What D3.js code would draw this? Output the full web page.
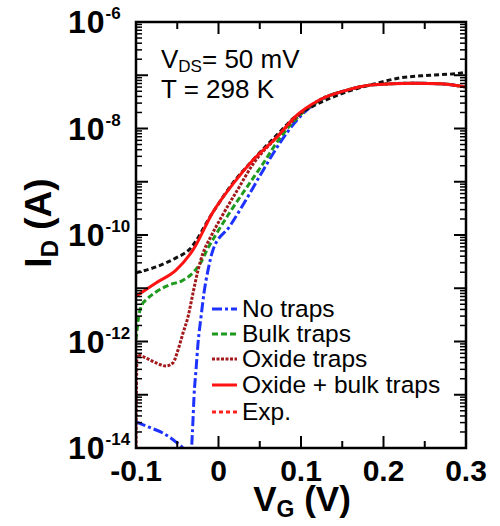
<!DOCTYPE html>
<html>
<head>
<meta charset="utf-8">
<script src="https://cdn.jsdelivr.net/npm/d3@7"></script>
<style>
  html, body { margin: 0; padding: 0; background: #fff; }
  svg { display: block; font-family: Arial, "Liberation Sans", sans-serif; }
</style>
</head>
<body>
<svg id="chart" width="500" height="526"></svg>
<script>
// ---- Data (V_G in volts, log10 of I_D in amperes) ----
const noTrapsV = [-0.1, -0.0842, -0.0673, -0.0515, -0.0418, -0.038, -0.0345, -0.0321, -0.0309, -0.0297, -0.0273, -0.0248, -0.0212, -0.0176, -0.0127, -0.0067, 0.0139, 0.0345, 0.0527, 0.0745, 0.0952, 0.123, 0.1558, 0.1873, 0.2358, 0.2685, 0.3];
const noTrapsL = [-13.51, -13.61, -13.72, -13.89, -14.04, -14.5, -14.5, -13.85, -13.47, -13.04, -12.54, -12.03, -11.54, -11.09, -10.66, -10.28, -9.83, -9.31, -8.82, -8.27, -7.84, -7.47, -7.28, -7.18, -7.15, -7.16, -7.22];

const bulkV = [-0.1, -0.0964, -0.0927, -0.0879, -0.0758, -0.06, -0.043, -0.0297, -0.0212, -0.0139, -0.0042, 0.0139, 0.0345, 0.0527, 0.0745, 0.0952, 0.123, 0.1558, 0.1873, 0.2358, 0.2685, 0.3];
const bulkL = [-11.97, -11.50, -11.31, -11.22, -11.07, -10.94, -10.85, -10.69, -10.51, -10.28, -10.02, -9.57, -9.10, -8.69, -8.18, -7.80, -7.47, -7.28, -7.18, -7.15, -7.16, -7.22];

const oxideV = [-0.1, -0.0988, -0.0879, -0.0758, -0.0636, -0.0552, -0.0491, -0.043, -0.037, -0.0309, -0.0248, -0.0188, -0.0103, 0.0055, 0.0224, 0.0418, 0.0709, 0.0952, 0.123, 0.1558, 0.1873, 0.2358, 0.2685, 0.3];
const oxideL = [-14.0, -12.25, -12.31, -12.40, -12.46, -12.40, -12.16, -11.84, -11.54, -11.09, -10.66, -10.34, -10.06, -9.61, -9.17, -8.67, -8.16, -7.78, -7.46, -7.28, -7.18, -7.15, -7.16, -7.22];

const oxBulkV = [-0.1, -0.0758, -0.0515, -0.0309, -0.0067, 0.0176, 0.0418, 0.0709, 0.0927, 0.123, 0.1558, 0.1873, 0.2358, 0.2685, 0.3];
const oxBulkL = [-11.15, -10.90, -10.66, -10.28, -9.57, -9.04, -8.59, -8.16, -7.78, -7.46, -7.28, -7.18, -7.15, -7.16, -7.22];

const expV = [-0.1, -0.0758, -0.0515, -0.0358, -0.0067, 0.0176, 0.0418, 0.0709, 0.0952, 0.1145, 0.1558, 0.1921, 0.22, 0.2564, 0.2927, 0.3];
const expL = [-10.71, -10.60, -10.43, -10.28, -9.57, -9.02, -8.59, -8.12, -7.75, -7.58, -7.31, -7.15, -7.05, -7.00, -6.96, -6.94];

const seriesNames = ["No traps", "Bulk traps", "Oxide traps", "Oxide + bulk traps", "Exp."];
const xTickValues = [-0.1, 0, 0.1, 0.2, 0.3];
const xTickLabels = ["-0.1", "0", "0.1", "0.2", "0.3"];
const yLabelExponents = [-14, -12, -10, -8, -6];
const annotation1 = ["V", "DS", "= 50 mV"];
const annotation2 = "T = 298 K";

// ---- Layout ----
const svg = d3.select("#chart");
const L = 136, R = 466, T = 22, B = 448;
const x = d3.scaleLinear().domain([-0.1, 0.3]).range([L, R]);
const y = d3.scaleLog().domain([1e-14, 1e-6]).range([B, T]);

svg.append("defs").append("clipPath").attr("id", "clip")
  .append("rect").attr("x", L).attr("y", T).attr("width", R - L).attr("height", B - T);

const styles = [
  { color: "#1e32ff", dash: "10,3,3,3", width: 3 },
  { color: "#1f9a1f", dash: "6,3", width: 3 },
  { color: "#a3191b", dash: "3,1.5", width: 3 },
  { color: "#ff1212", dash: null, width: 3 },
  { color: "#111111", dash: "5,3", width: 3 }
];
const legendStyles = [styles[0], styles[1], styles[2], styles[3], { color: "#ff2020", dash: "4,3", width: 3 }];

function pts(vs, ls) { return vs.map((v, i) => [v, Math.pow(10, ls[i])]); }
const series = [pts(noTrapsV, noTrapsL), pts(bulkV, bulkL), pts(oxideV, oxideL), pts(oxBulkV, oxBulkL), pts(expV, expL)];

const line = d3.line().x(d => x(d[0])).y(d => y(d[1])).curve(d3.curveMonotoneX);

const plot = svg.append("g").attr("clip-path", "url(#clip)");
[0, 1, 2, 4, 3].forEach(i => {
  plot.append("path").attr("d", line(series[i]))
    .attr("fill", "none")
    .attr("stroke", styles[i].color)
    .attr("stroke-width", styles[i].width)
    .attr("stroke-dasharray", styles[i].dash)
    .attr("stroke-linejoin", "round");
});

// ---- Frame & ticks ----
const ax = svg.append("g").attr("stroke", "#000").attr("stroke-width", 2);
const xMinor = d3.range(-0.1, 0.3001, 0.05);
xMinor.forEach(v => {
  const isMajor = xTickValues.some(t => Math.abs(t - v) < 1e-6);
  const len = isMajor ? 12 : 7;
  ax.append("line").attr("x1", x(v)).attr("x2", x(v)).attr("y1", B).attr("y2", B - len);
  ax.append("line").attr("x1", x(v)).attr("x2", x(v)).attr("y1", T).attr("y2", T + len);
});
for (let e = -14; e <= -6; e++) {
  const yy = y(Math.pow(10, e));
  ax.append("line").attr("x1", L).attr("x2", L + 12).attr("y1", yy).attr("y2", yy);
  ax.append("line").attr("x1", R).attr("x2", R - 12).attr("y1", yy).attr("y2", yy);
  if (e < -6) {
    for (let m = 2; m <= 9; m++) {
      const ym = y(m * Math.pow(10, e));
      ax.append("line").attr("x1", L).attr("x2", L + 6).attr("y1", ym).attr("y2", ym).attr("stroke-width", 1.5);
      ax.append("line").attr("x1", R).attr("x2", R - 6).attr("y1", ym).attr("y2", ym).attr("stroke-width", 1.5);
    }
  }
}
svg.append("rect").attr("x", L).attr("y", T).attr("width", R - L).attr("height", B - T)
  .attr("fill", "none").attr("stroke", "#000").attr("stroke-width", 2.5);

// ---- Tick labels ----
xTickValues.forEach((v, i) => {
  svg.append("text").attr("x", x(v)).attr("y", 481)
    .attr("text-anchor", "middle").attr("font-size", 30).attr("font-weight", "bold")
    .text(xTickLabels[i]);
});
yLabelExponents.forEach(e => {
  const t = svg.append("text").attr("x", 68).attr("y", y(Math.pow(10, e)) + 11)
    .attr("text-anchor", "start").attr("font-weight", "bold");
  t.append("tspan").attr("font-size", 32).attr("letter-spacing", 1).text("10");
  t.append("tspan").attr("font-size", 17).attr("dy", -14).text(String(e));
});

// ---- Axis titles ----
const xt = svg.append("text").attr("x", 302).attr("y", 511).attr("text-anchor", "middle")
  .attr("font-size", 35).attr("font-weight", "bold");
xt.append("tspan").text("V");
xt.append("tspan").attr("font-size", 23).attr("dy", 6).text("G");
xt.append("tspan").attr("dy", -6).text(" (V)");

const yt = svg.append("text").attr("transform", "translate(51,223) rotate(-90)").attr("text-anchor", "middle")
  .attr("font-size", 37).attr("font-weight", "bold");
yt.append("tspan").text("I");
yt.append("tspan").attr("font-size", 24).attr("dy", 7).text("D");
yt.append("tspan").attr("dy", -7).text(" (A)");

// ---- Annotation ----
const a1 = svg.append("text").attr("x", 161).attr("y", 68).attr("font-size", 26);
a1.append("tspan").text(annotation1[0]);
a1.append("tspan").attr("font-size", 17).attr("dy", 4).text(annotation1[1]);
a1.append("tspan").attr("dy", -4).text(annotation1[2]);
svg.append("text").attr("x", 161).attr("y", 98).attr("font-size", 26).text(annotation2);

// ---- Legend ----
const legBase = [317, 342, 367, 393, 420];
seriesNames.forEach((name, i) => {
  const yy = legBase[i] - 8;
  const st = legendStyles[i];
  svg.append("line").attr("x1", 212).attr("x2", 237).attr("y1", yy).attr("y2", yy)
    .attr("stroke", st.color).attr("stroke-width", st.width).attr("stroke-dasharray", st.dash);
  svg.append("text").attr("x", 242).attr("y", legBase[i]).attr("font-size", 24.5).text(name);
});
</script>
</body>
</html>
